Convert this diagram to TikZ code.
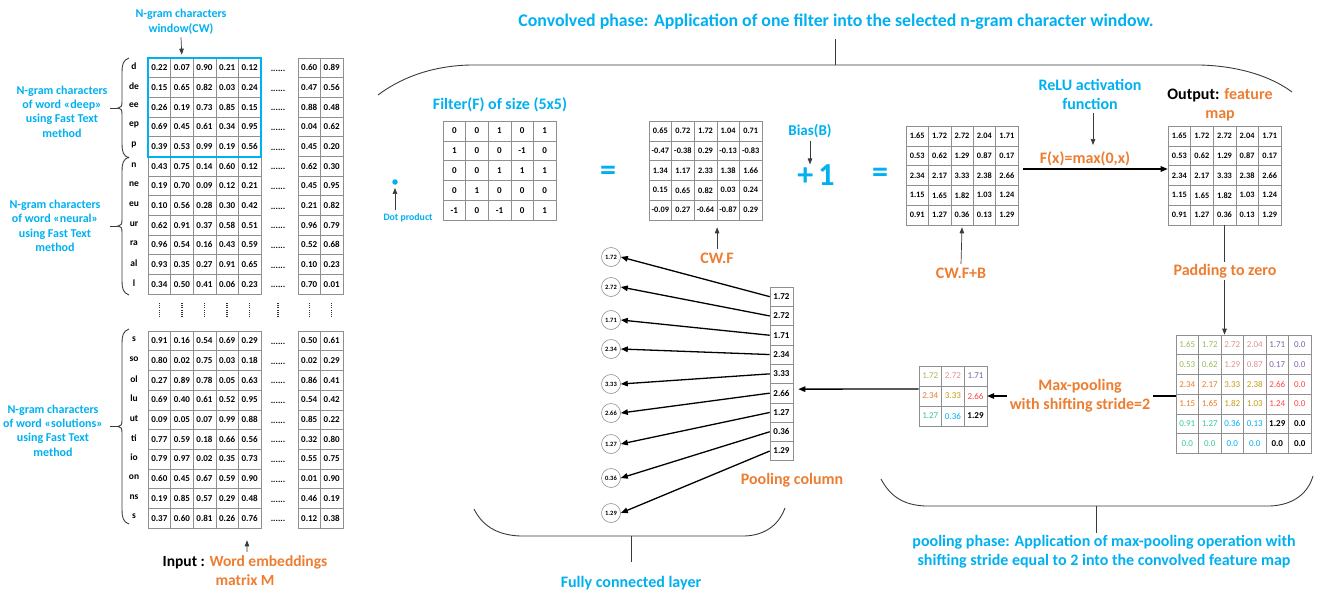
\documentclass[tikz,border=0pt]{standalone}
\usepackage{fontspec}
\setmainfont{Carlito}
\usetikzlibrary{arrows.meta}

\definecolor{lblue}{HTML}{00B0F0}
\definecolor{orng}{HTML}{ED7D31}
\definecolor{gridc}{HTML}{8F8F8F}
\definecolor{linec}{HTML}{3A3A3A}
\definecolor{cOlive}{HTML}{9BBB59}
\definecolor{cPink}{HTML}{E09090}
\definecolor{cPurple}{HTML}{8064A2}
\definecolor{cOrange}{HTML}{EE7A2A}
\definecolor{cGold}{HTML}{C49A12}
\definecolor{cRed}{HTML}{FF4545}
\definecolor{cTeal}{HTML}{35C7A0}

\newcommand\fsz[2]{\fontsize{#1}{#2}\selectfont}
% curly brace opening to the right: x of the ends, top y, bottom y
\newcommand\wordbrace[3]{%
  \pgfmathsetmacro\bm{(#2+#3)/2}%
  \draw[brline] (#1,#2) .. controls (#1-6,#2+2) and (#1-7,#2+7) .. (#1-7,#2+14)
    -- (#1-7,\bm-6) .. controls (#1-7,\bm-2) and (#1-8,\bm) .. (#1-11,\bm)
    .. controls (#1-8,\bm) and (#1-7,\bm+2) .. (#1-7,\bm+6)
    -- (#1-7,#3-14) .. controls (#1-7,#3-7) and (#1-6,#3-2) .. (#1,#3);
  \draw[brline] (#1-11,\bm) -- (#1-19,\bm);}

\tikzset{
  cell/.style={draw=gridc, line width=0.6pt, minimum width=22.6pt, minimum height=19.7pt,
    inner sep=0pt, font=\fsz{9}{10}\bfseries},
  ccell/.style={cell, minimum height=19.8pt, font=\fsz{8.3}{9}\bfseries},
  pcell/.style={draw=gridc, line width=0.6pt, minimum width=22.5pt, minimum height=19.7pt,
    inner sep=0pt, font=\fsz{9}{10}},
  qcell/.style={pcell, minimum width=22.6pt, minimum height=20pt},
  colcell/.style={cell, minimum width=23pt, minimum height=19.3pt},
  tO/.style={text=cOlive}, tP/.style={text=cPink}, tU/.style={text=cPurple},
  tR/.style={text=cOrange}, tG/.style={text=cGold}, tD/.style={text=cRed},
  tT/.style={text=cTeal}, tB/.style={text=lblue},
  tK/.style={text=black, font=\fsz{9}{10}\bfseries},
  fcirc/.style={circle, draw=gridc, line width=0.6pt, minimum size=19pt, inner sep=0pt,
    font=\fsz{6.5}{7}\bfseries},
  rowlbl/.style={font=\fsz{9.5}{10}\bfseries, inner sep=0pt},
  hdots/.style={font=\fsz{9}{10}\bfseries, inner sep=0pt},
  vdots/.style={line width=1.3pt, dash pattern=on 1pt off 1.2pt, draw=black!80},
  sidelbl/.style={text=lblue, font=\fsz{12}{14.4}\bfseries, align=center},
  bluelbl/.style={text=lblue, font=\fsz{16}{19}\bfseries, align=center},
  orglbl/.style={text=orng, font=\fsz{16}{19}\bfseries, align=center},
  bigsym/.style={text=lblue, font=\fsz{32}{32}\bfseries, inner sep=0pt},
  arr/.style={draw=black, line width=1.3pt, -{Triangle[length=7pt,width=5.5pt]}},
  arrthin/.style={draw=linec, line width=0.7pt, -{Triangle[length=6pt,width=4.5pt]}},
  brline/.style={draw=linec, line width=0.9pt},
}

\begin{document}
\begin{tikzpicture}[x=1pt,y=-1pt]
\useasboundingbox (0,0) rectangle (1324,594);

% ---------- word embeddings matrix, first words ----------
\foreach \row [count=\r] in {
 {0.22,0.07,0.90,0.21,0.12,0.60,0.89},
 {0.15,0.65,0.82,0.03,0.24,0.47,0.56},
 {0.26,0.19,0.73,0.85,0.15,0.88,0.48},
 {0.69,0.45,0.61,0.34,0.95,0.04,0.62},
 {0.39,0.53,0.99,0.19,0.56,0.45,0.20},
 {0.43,0.75,0.14,0.60,0.12,0.62,0.30},
 {0.19,0.70,0.09,0.12,0.21,0.45,0.95},
 {0.10,0.56,0.28,0.30,0.42,0.21,0.82},
 {0.62,0.91,0.37,0.58,0.51,0.96,0.79},
 {0.96,0.54,0.16,0.43,0.59,0.52,0.68},
 {0.93,0.35,0.27,0.91,0.65,0.10,0.23},
 {0.34,0.50,0.41,0.06,0.23,0.70,0.01}} {
  \pgfmathsetmacro\ry{58+19.67*(\r-0.5)}
  \foreach \v [count=\c] in \row {
    \pgfmathsetmacro\cx{\c<6 ? 148+22.6*(\c-0.5) : 298+22.5*(\c-5.5)}
    \node[cell] (L-\r-\c) at (\cx,\ry) {\v};
  }
  \node[hdots] (LD-\r) at (278,\ry+3) {......};
}
\foreach \t [count=\r] in {d,de,ee,ep,p,n,ne,eu,ur,ra,al,l}
  \node[rowlbl] (LR-\r) at (134,{58+19.67*(\r-0.5)-1.5}) {\t};

% n-gram window
\draw[lblue, line width=1.8pt] (L-1-1.north west) rectangle (L-5-5.south east);

% ---------- word embeddings matrix, last word ----------
\foreach \row [count=\r] in {
 {0.91,0.16,0.54,0.69,0.29,0.50,0.61},
 {0.80,0.02,0.75,0.03,0.18,0.02,0.29},
 {0.27,0.89,0.78,0.05,0.63,0.86,0.41},
 {0.69,0.40,0.61,0.52,0.95,0.54,0.42},
 {0.09,0.05,0.07,0.99,0.88,0.85,0.22},
 {0.77,0.59,0.18,0.66,0.56,0.32,0.80},
 {0.79,0.97,0.02,0.35,0.73,0.55,0.75},
 {0.60,0.45,0.67,0.59,0.90,0.01,0.90},
 {0.19,0.85,0.57,0.29,0.48,0.46,0.19},
 {0.37,0.60,0.81,0.26,0.76,0.12,0.38}} {
  \pgfmathsetmacro\ry{331+19.7*(\r-0.5)}
  \foreach \v [count=\c] in \row {
    \pgfmathsetmacro\cx{\c<6 ? 148+22.6*(\c-0.5) : 298+22.5*(\c-5.5)}
    \node[cell] (S-\r-\c) at (\cx,\ry) {\v};
  }
  \node[hdots] (SD-\r) at (278,\ry+3) {......};
}
\foreach \t [count=\r] in {s,so,ol,lu,ut,ti,io,on,ns,s}
  \node[rowlbl] (SR-\r) at (134,{331+19.7*(\r-0.5)-1.5}) {\t};

% vertical ellipsis between the two parts
\foreach \x in {159.3,181.9,204.5,227.1,249.7,278,309.3,331.8}
  \draw[vdots] (\x,303) -- (\x,318);

% braces grouping the n-grams of each word
\wordbrace{129}{58}{158}
\wordbrace{129}{157}{295}
\wordbrace{129}{329}{524}

\node[sidelbl] (wdeep) at (62,111.5) {N-gram characters\\of word «deep»\\using Fast Text\\method};
\node[sidelbl] (wneural) at (55,226) {N-gram characters\\of word «neural»\\using Fast Text\\method};
\node[sidelbl] (wsol) at (53,430.5) {N-gram characters\\of word «solutions»\\using Fast Text\\method};

\node[sidelbl] (cwlbl) at (181,21.5) {N-gram characters\\window(CW)};
\draw[arrthin, shorten >=3pt] (cwlbl.south) -- (L-1-2.north);

\node[font=\fsz{15.5}{19}\bfseries, align=center] (inlbl) at (245,570.5)
  {Input : \textcolor{orng}{Word embeddings}\\\textcolor{orng}{matrix M}};
\draw[arrthin] ([xshift=2pt]inlbl.north) -- ([xshift=-2.7pt,yshift=-12pt]S-10-5.south);

% ---------- convolution phase ----------
\draw[brline] (378,95) .. controls (398,80) and (428,66) .. (470,65) -- (1200,65)
  .. controls (1240,66) and (1272,77) .. (1292,92);
\node[bluelbl, font=\fsz{17.8}{20}\bfseries] (convlbl) at (836,22) {Convolved phase: Application of one filter into the selected n-gram character window.};
\draw[brline] (835,65) -- (835,39);

\node[circle, fill=lblue, minimum size=5.5pt, inner sep=0pt] (dot) at (395,182) {};
\node[text=lblue, font=\fsz{9.8}{11}\bfseries] (dotlbl) at (408,218) {Dot product};
\draw[arrthin, shorten >=3pt] (dotlbl.north -| dot) -- (dot.south);

\node[bluelbl] (filtlbl) at (500,105) {Filter(F) of size (5x5)};
\foreach \row [count=\r] in {{0,0,1,0,1},{1,0,0,-1,0},{0,0,1,1,1},{0,1,0,0,0},{-1,0,-1,0,1}}
  \foreach \v [count=\c] in \row
    \node[ccell, font=\fsz{9}{10}\bfseries] (FL-\r-\c) at ({443+22.6*(\c-0.5)},{121+19.8*(\r-0.5)}) {\v};

\node[bigsym] (eqA) at (608,173) {=};

\foreach \row [count=\r] in {
 {0.65,0.72,1.72,1.04,0.71},
 {-0.47,-0.38,0.29,-0.13,-0.83},
 {1.34,1.17,2.33,1.38,1.66},
 {0.15,0.65,0.82,0.03,0.24},
 {-0.09,0.27,-0.64,-0.87,0.29}}
  \foreach \v [count=\c] in \row
    \node[ccell] (CF-\r-\c) at ({649+22.6*(\c-0.5)},{121+19.8*(\r-0.5)}) {\v};
\node[orglbl] (cwflbl) at (717,258) {CW.F};
\draw[arrthin] (cwflbl.north -| CF-5-3.south east) -- ([yshift=-7pt]CF-5-3.south east);

\node[text=lblue, font=\fsz{15}{18}\bfseries] (biaslbl) at (810,131) {Bias(B)};
\node[bigsym] (plusone) at (816,175) {+\hspace{5pt}1};
\draw[arrthin] (biaslbl.south) -- ([xshift=-6pt]plusone.north);

\node[bigsym] (eqB) at (880,175) {=};

\foreach \row [count=\r] in {
 {1.65,1.72,2.72,2.04,1.71},
 {0.53,0.62,1.29,0.87,0.17},
 {2.34,2.17,3.33,2.38,2.66},
 {1.15,1.65,1.82,1.03,1.24},
 {0.91,1.27,0.36,0.13,1.29}} {
  \foreach \v [count=\c] in \row {
    \node[ccell, minimum width=22.4pt] (CB-\r-\c) at ({906+22.4*(\c-0.5)},{126+19.8*(\r-0.5)}) {\v};
    \node[ccell] (OU-\r-\c) at ({1168+22.6*(\c-0.5)},{126+19.8*(\r-0.5)}) {\v};
  }
}
\node[orglbl] (cwfblbl) at (961,273) {CW.F+B};
\draw[arrthin] (cwfblbl.north) -- ([yshift=-2pt]CB-5-3.south);

\node[bluelbl] (relulbl) at (1090,94.5) {ReLU activation\\function};
\node[orglbl] (fxlbl) at (1085,159) {F(x)=max(0,x)};
\draw[arrthin] (relulbl.south -| 1093,0) -- (1093,145);
\draw[arr] ([xshift=5pt,yshift=6.5pt]CB-3-5.east) -- ([yshift=6.5pt]OU-3-1.west);

\node[font=\fsz{16}{19}\bfseries, text=orng, align=center] (outlbl) at (1220,104.5)
  {\textcolor{black}{Output:} feature\\map};

% ---------- pooling phase ----------
\foreach \row [count=\r] in {
 {1.65/tO,1.72/tO,2.72/tP,2.04/tP,1.71/tU,0.0/tU},
 {0.53/tO,0.62/tO,1.29/tP,0.87/tP,0.17/tU,0.0/tU},
 {2.34/tR,2.17/tR,3.33/tG,2.38/tG,2.66/tD,0.0/tD},
 {1.15/tR,1.65/tR,1.82/tG,1.03/tG,1.24/tD,0.0/tD},
 {0.91/tT,1.27/tT,0.36/tB,0.13/tB,1.29/tK,0.0/tK},
 {0.0/tT,0.0/tT,0.0/tB,0.0/tB,0.0/tK,0.0/tK}}
  \foreach \v/\s [count=\c] in \row
    \node[pcell,\s] (PD-\r-\c) at ({1176+22.5*(\c-0.5)},{335+19.7*(\r-0.5)}) {\v};

\draw[arrthin] (OU-5-3.south) -- (OU-5-3.south |- PD-1-1.north);
\node[orglbl, fill=white, inner sep=2pt] (padlbl) at (1225,271) {Padding to zero};

\foreach \row [count=\r] in {
 {1.72/tO,2.72/tP,1.71/tU},
 {2.34/tR,3.33/tG,2.66/tD},
 {1.27/tT,0.36/tB,1.29/tK}}
  \foreach \v/\s [count=\c] in \row
    \node[qcell,\s] (PL-\r-\c) at ({919+22.6*(\c-0.5)},{366+20*(\r-0.5)}) {\v};

\draw[arr] (PD-3-1.south west |- PL-2-3.east) -- (PL-2-3.east);
\node[orglbl, fill=white, inner sep=3pt] (mplbl) at (1080,395.5) {Max-pooling\\with shifting stride=2};

\draw[brline] (881,479) .. controls (890,496) and (903,505) .. (925,506) -- (1270,506)
  .. controls (1294,505) and (1308,493) .. (1313,476);
\draw[brline] (1096,506) -- (1096,533);
\node[bluelbl] (poollbl) at (1104,551.5) {pooling phase: Application of max-pooling operation with\\shifting stride equal to 2 into the convolved feature map};

% ---------- pooling column and fully connected layer ----------
\foreach \v [count=\k] in {1.72,2.72,1.71,2.34,3.33,2.66,1.27,0.36,1.29}
  \node[colcell] (PC-\k) at (781.5,{287+19.3*(\k-0.5)}) {\v};
\node[orglbl] (pclbl) at (792,480) {Pooling column};

\draw[arr] ([yshift=7pt]PL-2-1.west) -- ([xshift=5pt,yshift=4pt]PC-6.east);

\foreach \v/\y [count=\k] in {1.72/257,2.72/287,1.71/320,2.34/349,3.33/384,2.66/413,1.27/444,0.36/478,1.29/513}
  \node[fcirc] (FC-\k) at (611,\y) {\v};
\foreach \k in {1,...,9}
  \draw[arr] (PC-\k.west) -- (FC-\k.east);

\draw[brline] (474,509) .. controls (482,525) and (496,535) .. (520,536) -- (745,536)
  .. controls (768,535) and (780,522) .. (785,508);
\draw[brline] (631,536) -- (631,562);
\node[bluelbl] (fclbl) at (631,583) {Fully connected layer};

\end{tikzpicture}
\end{document}
